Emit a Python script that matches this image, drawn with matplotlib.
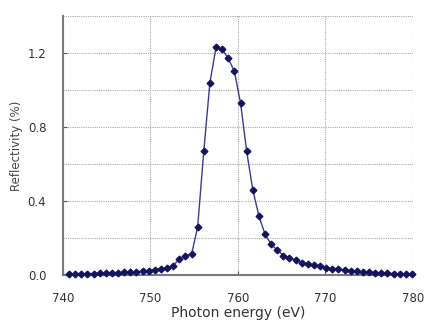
import matplotlib
matplotlib.use("Agg")
import matplotlib.pyplot as plt
from matplotlib.ticker import MultipleLocator, FormatStrFormatter

energy = [740.7, 741.4, 742.1, 742.8, 743.5, 744.2, 744.9, 745.6, 746.3, 747.0,
          747.7, 748.4, 749.1, 749.8, 750.5, 751.2, 751.9, 752.6, 753.3, 754.0,
          754.7, 755.4, 756.1, 756.8, 757.5, 758.2, 758.9, 759.6, 760.3, 761.0,
          761.7, 762.4, 763.1, 763.8, 764.5, 765.2, 765.9, 766.6, 767.3, 768.0,
          768.7, 769.4, 770.1, 770.8, 771.5, 772.2, 772.9, 773.6, 774.3, 775.0,
          775.7, 776.4, 777.1, 777.8, 778.5, 779.2, 779.9]
reflectivity = [0.003, 0.005, 0.006, 0.007, 0.008, 0.009, 0.010, 0.012, 0.013, 0.014,
                0.016, 0.018, 0.020, 0.024, 0.028, 0.033, 0.040, 0.050, 0.087, 0.105,
                0.112, 0.26, 0.67, 1.04, 1.23, 1.22, 1.17, 1.10, 0.93, 0.67,
                0.46, 0.32, 0.22, 0.166, 0.134, 0.105, 0.094, 0.080, 0.067, 0.060,
                0.054, 0.047, 0.040, 0.035, 0.030, 0.027, 0.023, 0.020, 0.017, 0.015,
                0.013, 0.012, 0.010, 0.008, 0.006, 0.005, 0.004]

xlabel = "Photon energy (eV)"
ylabel = "Reflectivity (%)"

fig = plt.figure(figsize=(4.30, 3.32), dpi=100)
ax = fig.add_axes([0.1465, 0.1717, 0.8135, 0.7803])

ax.plot(energy, reflectivity, color="#3b3b96", lw=1.0, marker="D",
        markersize=3.4, markerfacecolor="#14145e", markeredgecolor="#14145e",
        zorder=3, clip_on=False)

ax.set_xlim(740, 780)
ax.set_ylim(0, 1.4)
ax.xaxis.set_major_locator(MultipleLocator(10))
ax.yaxis.set_major_locator(MultipleLocator(0.4))
ax.yaxis.set_minor_locator(MultipleLocator(0.2))
ax.yaxis.set_major_formatter(FormatStrFormatter("%.1f"))

ax.grid(True, which="both", color="#a8a8a8", linestyle=(0, (1, 1)), lw=0.8)
ax.set_axisbelow(True)

for s in ("top", "right"):
    ax.spines[s].set_visible(False)
for s in ("left", "bottom"):
    ax.spines[s].set_color("#7a7a7a")
    ax.spines[s].set_linewidth(1.5)

ax.tick_params(which="both", direction="in", length=3, color="#555555",
               labelsize=8.5, labelcolor="#333333")
ax.tick_params(axis="x", pad=12)
ax.tick_params(axis="y", pad=12)
ax.tick_params(which="minor", length=0)

ax.set_xlabel(xlabel, fontsize=10, color="#333333", labelpad=1)
ax.set_ylabel(ylabel, fontsize=8.5, color="#444444", labelpad=3)

fig.savefig("out.png", dpi=100)
